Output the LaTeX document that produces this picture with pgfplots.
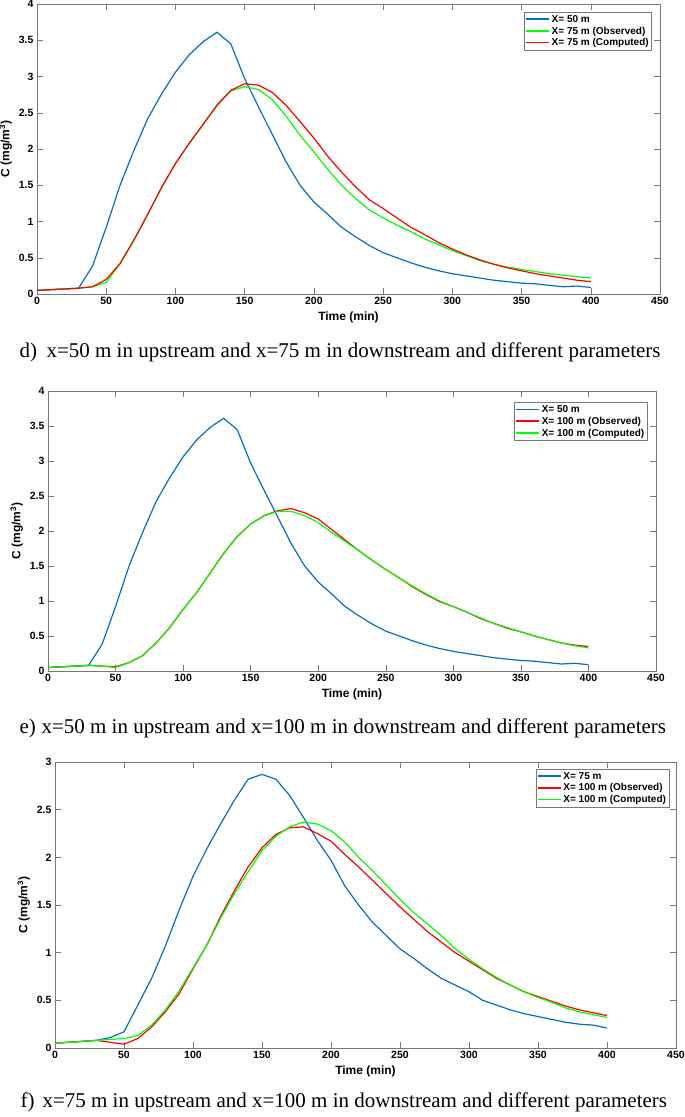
\documentclass[border=0pt]{standalone}
\usepackage{pgfplots}
\pgfplotsset{compat=1.18}
\usepackage{pgfplotstable}
\usepackage{fontspec}
\setmainfont{Liberation Sans}
\newfontfamily\capfont{Liberation Serif}

\definecolor{mblue}{RGB}{0,114,189}
\definecolor{mgreen}{RGB}{0,255,0}
\definecolor{mred}{RGB}{255,0,0}
\definecolor{axgray}{RGB}{120,120,120}

% X=50 m (upstream), used in d and e
\pgfplotstableread{
t    c
0    0.05
10   0.06
20   0.07
30   0.08
40   0.38
50   0.92
60   1.50
70   1.98
80   2.42
90   2.76
100  3.06
110  3.30
120  3.48
130  3.61
140  3.45
150  2.97
160  2.58
170  2.20
180  1.82
190  1.50
200  1.27
210  1.10
220  0.92
230  0.79
240  0.67
250  0.57
260  0.50
270  0.43
280  0.37
290  0.32
300  0.28
310  0.25
320  0.22
330  0.19
340  0.17
350  0.15
360  0.14
370  0.12
380  0.10
390  0.11
400  0.09
}\upfifty

% panel d: X=75 m observed (green) / computed (red)
\pgfplotstableread{
t    obs   comp
0    0.05  0.05
10   0.06  0.06
20   0.07  0.07
30   0.08  0.08
40   0.10  0.10
50   0.16  0.20
60   0.42  0.42
70   0.75  0.74
80   1.10  1.10
90   1.47  1.47
100  1.80  1.80
110  2.08  2.08
120  2.34  2.34
130  2.61  2.60
140  2.80  2.81
150  2.86  2.90
160  2.82  2.88
170  2.68  2.78
180  2.45  2.60
190  2.19  2.38
200  1.96  2.15
210  1.72  1.90
220  1.50  1.68
230  1.32  1.48
240  1.16  1.30
250  1.05  1.18
260  0.95  1.05
270  0.86  0.92
280  0.76  0.82
290  0.68  0.71
300  0.60  0.62
310  0.53  0.54
320  0.46  0.47
330  0.41  0.41
340  0.37  0.36
350  0.34  0.32
360  0.31  0.28
370  0.28  0.25
380  0.26  0.22
390  0.24  0.19
400  0.22  0.17
}\paneld

% panel e: X=100 m observed (red) / computed (green)
\pgfplotstableread{
t    obs   comp
0    0.05  0.05
10   0.06  0.06
20   0.07  0.07
30   0.08  0.08
40   0.07  0.07
50   0.06  0.05
60   0.12  0.12
70   0.22  0.22
80   0.40  0.40
90   0.62  0.62
100  0.88  0.88
110  1.12  1.12
120  1.40  1.40
130  1.68  1.68
140  1.92  1.92
150  2.10  2.10
160  2.22  2.22
170  2.29  2.28
180  2.32  2.28
190  2.26  2.22
200  2.17  2.12
210  2.02  1.98
220  1.87  1.85
230  1.72  1.72
240  1.58  1.58
250  1.45  1.45
260  1.33  1.33
270  1.20  1.21
280  1.09  1.10
290  0.99  1.00
300  0.92  0.92
310  0.84  0.84
320  0.75  0.76
330  0.68  0.68
340  0.61  0.62
350  0.56  0.56
360  0.50  0.50
370  0.45  0.45
380  0.40  0.40
390  0.37  0.36
400  0.35  0.33
}\panele

% panel f: X=75 m (blue), X=100 m observed (red) / computed (green)
\pgfplotstableread{
t    up    obs   comp
0    0.05  0.05  0.05
10   0.06  0.06  0.06
20   0.07  0.07  0.07
30   0.08  0.08  0.08
40   0.11  0.06  0.09
50   0.17  0.04  0.10
60   0.45  0.10  0.13
70   0.73  0.22  0.24
80   1.07  0.38  0.40
90   1.45  0.57  0.60
100  1.80  0.83  0.84
110  2.09  1.08  1.08
120  2.35  1.38  1.36
130  2.60  1.65  1.62
140  2.82  1.90  1.85
150  2.87  2.10  2.07
160  2.82  2.24  2.22
170  2.65  2.31  2.32
180  2.42  2.32  2.37
190  2.18  2.25  2.35
200  1.97  2.17  2.28
210  1.70  2.03  2.16
220  1.50  1.90  2.00
230  1.32  1.76  1.86
240  1.18  1.62  1.71
250  1.04  1.48  1.56
260  0.94  1.35  1.42
270  0.83  1.22  1.30
280  0.73  1.11  1.18
290  0.66  1.00  1.04
300  0.59  0.91  0.93
310  0.50  0.82  0.83
320  0.45  0.73  0.74
330  0.40  0.66  0.66
340  0.36  0.59  0.59
350  0.33  0.54  0.53
360  0.30  0.49  0.48
370  0.27  0.44  0.42
380  0.25  0.40  0.38
390  0.24  0.37  0.35
400  0.21  0.34  0.32
}\panelf

\pgfplotsset{
  matlab/.style={
    scale only axis,
    xmin=0, xmax=450, ymin=0,
    xtick={0,50,...,450},
    tick align=inside, tick pos=both,
    major tick length=6pt,
    axis line style={axgray},
    every tick/.style={axgray},
    /pgf/number format/assume math mode=true,
    tick label style={font=\fontsize{10.5}{12}\selectfont\bfseries},
    label style={font=\fontsize{12}{14}\selectfont\bfseries},
    xlabel={Time (min)},
    ylabel={C (mg/m\textsuperscript{3})},
    legend cell align=left,
    legend style={draw=axgray, anchor=north east, inner sep=1pt,
      font=\fontsize{10}{12}\selectfont\bfseries,
      row sep=-1pt},
    legend image code/.code={\draw[#1, line width=1.7pt] (0pt,0.3pt) -- (23pt,0.3pt);},
    every axis plot/.append style={line width=1.2pt},
  }
}
\tikzset{captext/.style={anchor=base west, font=\capfont\fontsize{21}{24}\selectfont}}

\begin{document}
\begin{tikzpicture}
\useasboundingbox (0pt,0pt) rectangle (685pt,-1117pt);

% ---- d ----
\begin{axis}[matlab, at={(37pt,-294pt)}, anchor=south west,
  width=623pt, height=290pt, ymax=4, ytick={0,0.5,...,4},
  legend style={at={(0.987,0.972)}}]
  \addplot[mblue] table[x=t,y=c] {\upfifty};
  \addplot[mgreen] table[x=t,y=obs] {\paneld};
  \addplot[mred] table[x=t,y=comp] {\paneld};
  \legend{X= 50 m, X= 75 m (Observed), X= 75 m (Computed)}
\end{axis}
\node[captext] at (16pt,-357pt) {d)};
\node[captext] at (43pt,-357pt) {x=50 m in upstream and x=75 m in downstream and different parameters};

% ---- e ----
\begin{axis}[matlab, at={(48pt,-671pt)}, anchor=south west,
  width=608pt, height=280pt, ymax=4, ytick={0,0.5,...,4},
  legend style={at={(0.986,0.959)}}]
  \addplot[mblue] table[x=t,y=c] {\upfifty};
  \addplot[mred] table[x=t,y=obs] {\panele};
  \addplot[mgreen] table[x=t,y=comp] {\panele};
  \legend{X= 50 m, X= 100 m (Observed), X= 100 m (Computed)}
\end{axis}
\node[captext] at (16pt,-733pt) {e)};
\node[captext] at (38pt,-733pt) {x=50 m in upstream and x=100 m in downstream and different parameters};

% ---- f ----
\begin{axis}[matlab, at={(55pt,-1048pt)}, anchor=south west,
  width=621pt, height=286pt, ymax=3, ytick={0,0.5,...,3},
  legend style={at={(0.989,0.975)}}]
  \addplot[mblue] table[x=t,y=up] {\panelf};
  \addplot[mred] table[x=t,y=obs] {\panelf};
  \addplot[mgreen] table[x=t,y=comp] {\panelf};
  \legend{X= 75 m, X= 100 m (Observed), X= 100 m (Computed)}
\end{axis}
\node[captext] at (17pt,-1107pt) {f)};
\node[captext] at (39pt,-1107pt) {x=75 m in upstream and x=100 m in downstream and different parameters};
\end{tikzpicture}
\end{document}
